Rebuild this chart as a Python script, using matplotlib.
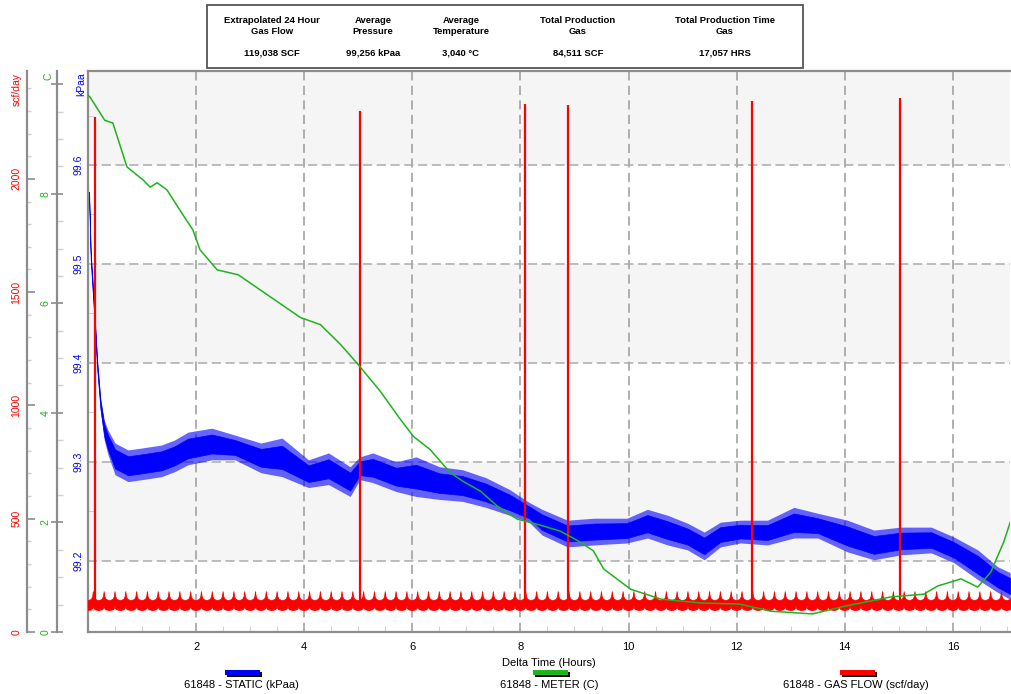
import matplotlib.pyplot as plt
import numpy as np
from matplotlib.patches import Rectangle
from matplotlib.ticker import MultipleLocator, FixedLocator

plt.rcParams['font.family'] = ['Liberation Sans', 'DejaVu Sans']

W, H = 1011, 694

# STATIC (kPaa): edges of the noisy band
static_t = [0.02, 0.05, 0.11, 0.17, 0.23, 0.30, 0.37, 0.50, 0.74, 1.0, 1.36, 1.6, 1.85,
            2.29, 2.72, 3.2, 3.59, 4.08, 4.45, 4.85, 5.03, 5.27, 5.7, 6.07, 6.5, 6.93,
            7.36, 7.8, 8.16, 8.4, 8.87, 9.36, 9.97, 10.35, 10.72, 11.09, 11.4, 11.7,
            12.07, 12.57, 13.06, 13.5, 14.05, 14.54, 15.04, 15.6, 16.02, 16.46, 16.83, 17.06]
static_hi = [99.575, 99.514, 99.464, 99.405, 99.365, 99.342, 99.332, 99.319, 99.312, 99.314,
             99.317, 99.322, 99.330, 99.334, 99.327, 99.319, 99.324, 99.302, 99.309, 99.295,
             99.305, 99.309, 99.300, 99.305, 99.295, 99.292, 99.284, 99.272, 99.259, 99.252,
             99.241, 99.243, 99.243, 99.252, 99.246, 99.238, 99.229, 99.239, 99.241, 99.241,
             99.254, 99.248, 99.241, 99.231, 99.234, 99.234, 99.224, 99.211, 99.194, 99.188]
static_lo = [99.565, 99.502, 99.449, 99.391, 99.351, 99.322, 99.307, 99.287, 99.280, 99.282,
             99.285, 99.290, 99.297, 99.302, 99.302, 99.289, 99.285, 99.274, 99.277, 99.265,
             99.282, 99.279, 99.270, 99.265, 99.262, 99.260, 99.254, 99.246, 99.239, 99.226,
             99.214, 99.216, 99.218, 99.223, 99.216, 99.211, 99.201, 99.214, 99.218, 99.216,
             99.223, 99.223, 99.209, 99.201, 99.206, 99.208, 99.198, 99.181, 99.168, 99.161]

# METER (C)
meter_t = [0.0, 0.04, 0.31, 0.46, 0.72, 1.02, 1.15, 1.28, 1.46, 1.70, 1.94, 2.07, 2.39,
           2.78, 3.37, 3.93, 4.30, 4.67, 5.0, 5.41, 5.78, 6.02, 6.33, 6.70, 6.94, 7.26,
           7.57, 7.94, 8.37, 8.74, 9.11, 9.35, 9.54, 10.04, 10.6, 11.33, 12.05, 12.63,
           13.4, 14.0, 14.85, 15.46, 15.72, 16.15, 16.46, 16.70, 16.94, 17.06]
meter_c = [9.80, 9.76, 9.34, 9.29, 8.49, 8.25, 8.12, 8.20, 8.07, 7.70, 7.34, 6.98, 6.61,
           6.52, 6.12, 5.74, 5.61, 5.25, 4.88, 4.39, 3.88, 3.57, 3.33, 2.91, 2.75, 2.57,
           2.30, 2.06, 1.95, 1.84, 1.64, 1.48, 1.15, 0.78, 0.60, 0.53, 0.51, 0.38,
           0.33, 0.47, 0.64, 0.69, 0.84, 0.97, 0.82, 1.09, 1.64, 2.00]

# GAS FLOW (scf/day): one 0.2 h cycle of the band, repeated over the run
flow_period = 0.2
flow_first_peak = 0.09
flow_cycles = 88
cycle_phase = [0.0, 0.06, 0.18, 0.5, 0.82, 0.94]
cycle_hi = [180, 158, 146, 140, 146, 158]
cycle_lo = [118, 106, 100, 97, 100, 106]
spike_t = [0.13, 5.04, 8.09, 8.88, 12.28, 15.02]
spike_v = [2273, 2300, 2330, 2326, 2344, 2357]

summary_heads = ['Extrapolated 24 Hour\nGas Flow', 'Average\nPressure', 'Average\nTemperature',
                 'Total Production\nGas', 'Total Production Time\nGas']
summary_values = ['119,038 SCF', '99,256 kPaa', '3,040 \u00b0C', '84,511 SCF', '17,057 HRS']
legend_names = ['61848 - STATIC (kPaa)', '61848 - METER (C)', '61848 - GAS FLOW (scf/day)']

blue = '#0000ff'
green = '#1db41d'
red = '#ff0000'
grey = '#8c8c8c'

fig = plt.figure(figsize=(W / 100, H / 100), dpi=100)
ax = fig.add_axes([88 / W, 1 - 632 / H, 922 / W, 561 / H])
ax_r = ax.twinx()
ax_g = ax.twinx()

# main (kPaa) axis
ax.set_xlim(0, 17.057)
ax.set_ylim(99.128, 99.695)
for lo, hi in [(99.2, 99.3), (99.4, 99.5), (99.6, 99.8)]:
    ax.axhspan(lo, hi, color='#f5f5f5', zorder=0, lw=0)
ax.set_axisbelow(True)
ax.set_xticks(range(2, 17, 2))
ax.xaxis.set_minor_locator(MultipleLocator(0.5))
ax.set_yticks([99.2, 99.3, 99.4, 99.5, 99.6])
ax.yaxis.set_minor_locator(FixedLocator([99.15, 99.25, 99.35, 99.45, 99.55, 99.65]))
ax.xaxis.grid(True, color='#9a9a9a', ls=(0, (6, 3.5)), lw=1.1)
ax.yaxis.grid(True, color='#ababab', ls=(0, (6, 3)), lw=1.1)
ax.tick_params(axis='x', which='major', length=0, pad=7, labelsize=8)
ax.tick_params(axis='x', which='minor', direction='in', length=4, color='#c8c8c8')
ax.tick_params(axis='y', which='major', length=0, pad=3, labelsize=7.5, labelcolor=blue,
               labelrotation=90)
ax.tick_params(axis='y', which='minor', direction='in', length=4, color='#c8c8c8')
for lab in ax.get_yticklabels():
    lab.set_va('center')
for side in ['left', 'top', 'bottom']:
    ax.spines[side].set_color(grey)
    ax.spines[side].set_linewidth(1.6)
ax.spines['right'].set_visible(False)
ax.set_xlabel('Delta Time (Hours)', fontsize=8)
ax.xaxis.set_label_coords(0.5, -0.047)

# noisy band: fringe out to the spikes, solid where the trace is dense
s_lo = np.array(static_lo)
s_hi = np.array(static_hi)
ax.fill_between(static_t, s_lo, s_hi, color=blue, alpha=0.6, lw=0, zorder=2)
ax.fill_between(static_t, s_lo + 0.2 * (s_hi - s_lo), s_hi - 0.2 * (s_hi - s_lo),
                color=blue, lw=0.5, edgecolor=blue, zorder=2)

# gas flow axis
t_flow = (flow_first_peak - flow_period
          + (np.arange(flow_cycles)[:, None] + np.array(cycle_phase)[None, :]) * flow_period).ravel()
ax_r.fill_between(t_flow, np.tile(cycle_lo, flow_cycles), np.tile(cycle_hi, flow_cycles),
                  color=red, lw=0.6, edgecolor=red)
ax_r.vlines(spike_t, 110, spike_v, color=red, lw=1.6)
ax_r.set_ylim(0, 2476)
ax_r.set_yticks(range(0, 2001, 500))
ax_r.yaxis.set_minor_locator(MultipleLocator(100))

# meter axis
ax_g.plot(meter_t, meter_c, color=green, lw=1.1)
ax_g.set_ylim(0, 10.24)
ax_g.set_yticks(range(0, 11, 2))
ax_g.set_yticklabels(['0', '2', '4', '6', '8', ''])
ax_g.yaxis.set_minor_locator(MultipleLocator(0.5))

for tw, pos, col in [(ax_r, -61 / 922, red), (ax_g, -31 / 922, green)]:
    tw.yaxis.tick_left()
    tw.yaxis.set_label_position('left')
    for side in ['right', 'top', 'bottom']:
        tw.spines[side].set_visible(False)
    tw.spines['left'].set_visible(True)
    tw.spines['left'].set_position(('axes', pos))
    tw.spines['left'].set_color(grey)
    tw.spines['left'].set_linewidth(1.6)
    tw.tick_params(axis='y', labelsize=7.5, labelcolor=col, labelrotation=90, color=grey)
    for lab in tw.get_yticklabels():
        lab.set_va('center')

ax_r.tick_params(axis='y', which='major', direction='in', length=6, width=1.2, pad=4)
ax_r.tick_params(axis='y', which='minor', direction='in', length=3, width=1, color='#d0d0d0')
ax_g.tick_params(axis='y', which='major', direction='inout', length=9, width=1.2, pad=0)
ax_g.tick_params(axis='y', which='minor', direction='in', length=4, width=1, color='#d0d0d0')

# unit labels on top of the axes
fig.text(17 / W, 1 - 90 / H, 'scf/day', color=red, rotation=90, fontsize=7.5, ha='center', va='center')
fig.text(48 / W, 1 - 76 / H, 'C', color=green, rotation=90, fontsize=7.5, ha='center', va='center')
fig.text(81 / W, 1 - 84 / H, 'kPaa', color=blue, rotation=90, fontsize=7.5, ha='center', va='center')

# summary box
fig.add_artist(Rectangle((207 / W, 1 - 68 / H), 596 / W, 63 / H, transform=fig.transFigure,
                         fill=False, edgecolor='#555555', lw=1.3))
for xc, head, val in zip([272, 373, 461, 578, 725], summary_heads, summary_values):
    fig.text(xc / W, 1 - 26 / H, head, ha='center', va='center', fontsize=6.8,
             fontweight='bold', linespacing=1.25)
    fig.text(xc / W, 1 - 53 / H, val, ha='center', va='center', fontsize=6.8, fontweight='bold')

# legend below the chart
for xc, name, col in zip([241, 549, 856], legend_names, [blue, green, red]):
    fig.add_artist(Rectangle(((xc - 14) / W, 1 - 677 / H), 35 / W, 5 / H,
                             transform=fig.transFigure, color='black', lw=0))
    fig.add_artist(Rectangle(((xc - 16) / W, 1 - 675 / H), 35 / W, 5 / H,
                             transform=fig.transFigure, color=col, lw=0))
    fig.text(xc / W, 1 - 685 / H, name, ha='center', va='center', fontsize=8)

fig.savefig('out.png', dpi=100)
